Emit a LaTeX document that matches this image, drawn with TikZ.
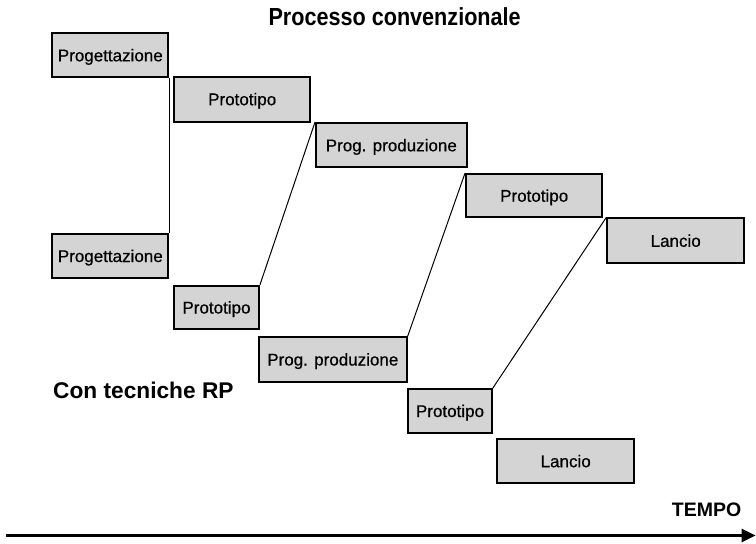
\documentclass[tikz,border=0pt]{standalone}
\usepackage{fontspec}
\setmainfont{Liberation Sans}
\newfontfamily\boxfont[FakeBold=0.6]{Liberation Sans}
\usetikzlibrary{arrows.meta}
\begin{document}
\begin{tikzpicture}[x=1pt,y=-1pt,
  phase/.style={draw=black, fill=black!17, line width=2pt, inner sep=0pt,
    font=\boxfont\fontsize{17}{20}\selectfont, text height=12pt, text depth=0pt},
  link/.style={line width=1pt},
  heading/.style={inner sep=0pt, anchor=base west}]
% page
\fill[white] (0,0) rectangle (756,544);
\useasboundingbox (0,0) rectangle (756,544);

% conventional process
\node[phase, minimum width=116pt, minimum height=44pt]   (p1) at (110.3,55.3)  {Progettazione};
\node[phase, minimum width=135.7pt, minimum height=45pt] (r1) at (242.2,99.2)  {Prototipo};
\node[phase, minimum width=150.7pt, minimum height=44pt] (q1) at (391.3,145.3) {Prog. produzione};
\node[phase, minimum width=136.3pt, minimum height=43.3pt] (r2) at (534.2,195.7) {Prototipo};
\node[phase, minimum width=136.7pt, minimum height=45pt] (l1) at (675.7,240.8) {Lancio};

% with RP techniques
\node[phase, minimum width=116pt, minimum height=44pt]   (p2) at (110.3,256)   {Progettazione};
\node[phase, minimum width=85pt, minimum height=43.6pt]  (r3) at (216.5,307.5) {Prototipo};
\node[phase, minimum width=147.7pt, minimum height=44.4pt] (q2) at (332.8,359.5) {Prog. produzione};
\node[phase, minimum width=83.4pt, minimum height=43.4pt] (r4) at (450,411)    {Prototipo};
\node[phase, minimum width=136.7pt, minimum height=44.3pt] (l2) at (565.7,461.2) {Lancio};

% time savings
\draw[link] (p1.south east) -- (p2.north east);
\draw[link] (r3.north east) -- (q1.north west);
\draw[link] (q2.north east) -- (r2.north west);
\draw[link] (r4.north east) -- (l1.north west);

% headings
\node[heading, font=\bfseries\fontsize{24.7}{28}\selectfont] (title) at (268.3,25)
  {\scalebox{0.875}[1]{Processo convenzionale}};
\node[heading, font=\bfseries\fontsize{22.7}{26}\selectfont] (rp) at (53,398.3) {Con tecniche RP};
\node[heading, font=\bfseries\fontsize{19.5}{22}\selectfont] (tempo) at (671.7,516.7) {TEMPO};

% time axis
\coordinate (t0) at (6,535.5);
\coordinate (t1) at (755.5,535.5);
\draw[line width=2.6pt, -{Triangle[length=14pt,width=13pt]}] (t0) -- (t1);
\end{tikzpicture}
\end{document}
